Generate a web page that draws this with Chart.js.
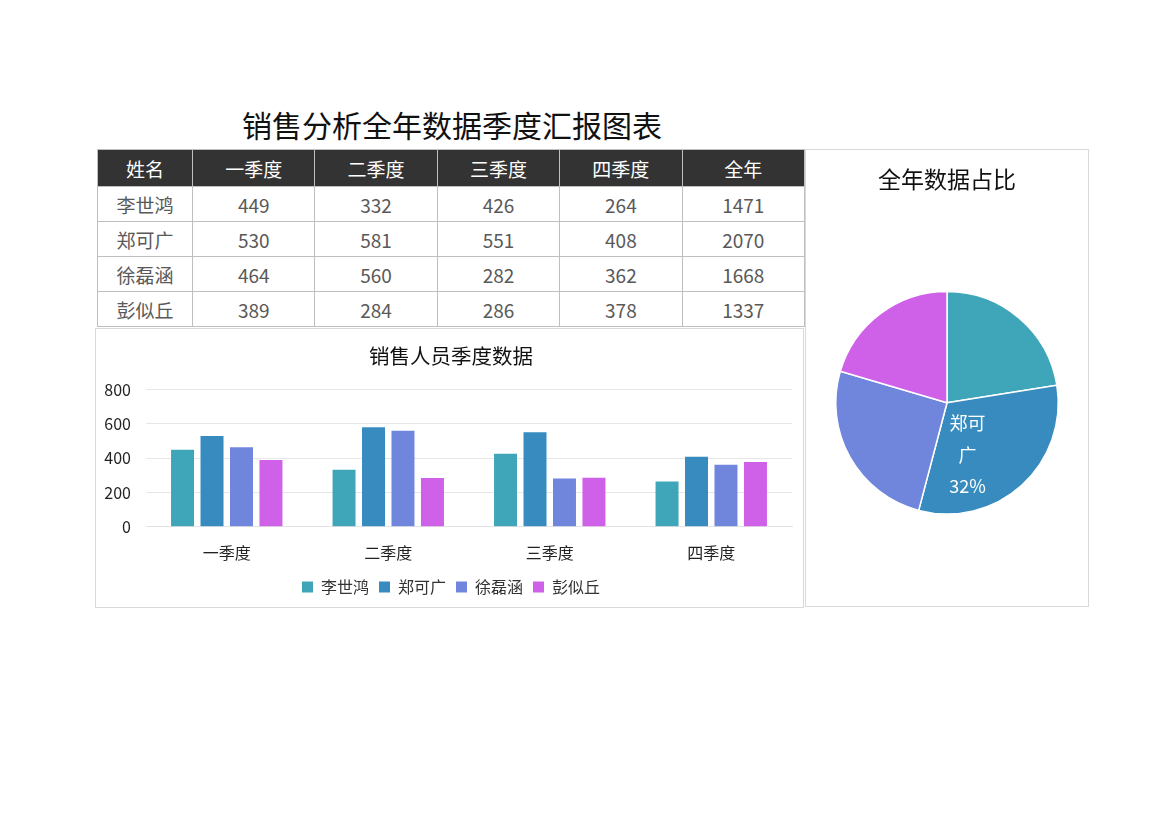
<!DOCTYPE html>
<html>
<head>
<meta charset="utf-8">
<script src="https://cdn.jsdelivr.net/npm/chart.js@4"></script>
<style>
  body { margin: 0; background: #fff; font-family: "Noto Sans CJK SC", "Noto Sans", sans-serif; }
  #page { position: relative; width: 1170px; height: 827px; }
  #mainTitle { position: absolute; left: 97px; width: 710px; top: 102px; text-align: center; font-size: 30px; color: #111; }
  #dataTable { position: absolute; left: 97px; top: 149px; width: 708px; border-collapse: collapse; table-layout: fixed; font-size: 19px; color: #595959; }
  #dataTable th, #dataTable td { border: 1px solid #bfbfbf; text-align: center; padding: 0; font-weight: normal; }
  #dataTable th { background: #333333; color: #fff; height: 36px; }
  #dataTable td { height: 34px; }
  .box { position: absolute; border: 1px solid #d9d9d9; background: #fff; }
  #barBox { left: 95px; top: 328px; width: 707px; height: 278px; }
  #pieBox { left: 805px; top: 149px; width: 282px; height: 456px; }
</style>
</head>
<body>
<div id="page">
  <div id="mainTitle">销售分析全年数据季度汇报图表</div>
  <table id="dataTable"><colgroup></colgroup><thead></thead><tbody></tbody></table>
  <div class="box" id="barBox"><canvas id="barChart"></canvas></div>
  <div class="box" id="pieBox"><canvas id="pieChart"></canvas></div>
</div>
<script>
// data
const headers = ['姓名', '一季度', '二季度', '三季度', '四季度', '全年'];
const quarters = ['一季度', '二季度', '三季度', '四季度'];
const names = ['李世鸿', '郑可广', '徐磊涵', '彭似丘'];
const liShihong = [449, 332, 426, 264];
const zhengKeguang = [530, 581, 551, 408];
const xuLeihan = [464, 560, 282, 362];
const pengSiqiu = [389, 284, 286, 378];
const yearTotals = [1471, 2070, 1668, 1337];
const colors = ['#3fa6b9', '#378bbf', '#7086dd', '#cf61e9'];

const series = [liShihong, zhengKeguang, xuLeihan, pengSiqiu];

// build table
document.querySelector('#dataTable colgroup').innerHTML =
  '<col style="width:95px">' + headers.slice(1).map(() => '<col>').join('');
const thead = document.querySelector('#dataTable thead');
thead.innerHTML = '<tr>' + headers.map(h => `<th>${h}</th>`).join('') + '</tr>';
const tbody = document.querySelector('#dataTable tbody');
tbody.innerHTML = names.map((n, i) =>
  '<tr><td>' + n + '</td>' +
  series[i].map(v => `<td>${v}</td>`).join('') +
  `<td>${yearTotals[i]}</td></tr>`
).join('');

const fontFamily = '"Noto Sans CJK SC", "Noto Sans", sans-serif';
Chart.defaults.font.family = fontFamily;
Chart.defaults.color = '#333';

// nudge title and legend a little to the right, like the original
const centerBlocks = {
  id: 'centerBlocks',
  afterLayout(chart) {
    [chart.titleBlock, chart.legend].forEach(b => {
      if (b) { b.left += 7; b.right += 7; }
    });
  }
};

new Chart(document.getElementById('barChart'), {
  type: 'bar',
  data: {
    labels: quarters,
    datasets: names.map((n, i) => ({
      label: n,
      data: series[i],
      backgroundColor: colors[i],
      borderWidth: 0,
      categoryPercentage: 0.73,
      barPercentage: 0.78
    }))
  },
  options: {
    responsive: true,
    maintainAspectRatio: false,
    animation: false,
    layout: { padding: { top: 4, left: 0, right: 11, bottom: 2 } },
    plugins: {
      title: {
        display: true,
        text: '销售人员季度数据',
        font: { size: 20.5, weight: 'normal' },
        color: '#111',
        padding: { top: 11, bottom: 21 }
      },
      legend: {
        position: 'bottom',
        labels: { boxWidth: 11, boxHeight: 11, font: { size: 16 }, color: '#333', padding: 10 }
      },
      tooltip: { enabled: false }
    },
    scales: {
      x: {
        grid: { display: false, drawTicks: true, tickLength: 11 },
        border: { color: '#e3e3e3' },
        ticks: { font: { size: 16 }, color: '#222', padding: 6 }
      },
      y: {
        min: 0,
        max: 800,
        ticks: { stepSize: 200, font: { size: 16 }, color: '#222', padding: 15 },
        grid: { color: '#e6e6e6', drawTicks: false },
        border: { display: false },
        afterFit(scale) { scale.width = 50; }
      }
    }
  },
  plugins: [centerBlocks]
});

// label only the largest slice, inside the pie
const pieLabel = {
  id: 'pieLabel',
  afterDatasetsDraw(chart) {
    const meta = chart.getDatasetMeta(0);
    const idx = 1;
    const arc = meta.data[idx];
    const total = yearTotals.reduce((a, b) => a + b, 0);
    const pct = Math.round(yearTotals[idx] / total * 100) + '%';
    const ang = arc.startAngle + 0.7 * (arc.endAngle - arc.startAngle);
    const r = arc.outerRadius * 0.5;
    const x = arc.x + Math.cos(ang) * r + 2;
    const y = arc.y + Math.sin(ang) * r;
    const ctx = chart.ctx;
    ctx.save();
    ctx.fillStyle = '#fff';
    ctx.font = '18px ' + fontFamily;
    ctx.textAlign = 'center';
    ctx.textBaseline = 'middle';
    ctx.fillText(names[idx].slice(0, 2), x, y - 32);
    ctx.fillText(names[idx].slice(2), x, y);
    ctx.fillText(pct, x, y + 31);
    ctx.restore();
  }
};

new Chart(document.getElementById('pieChart'), {
  type: 'pie',
  data: {
    labels: names,
    datasets: [{
      data: yearTotals,
      backgroundColor: colors,
      borderColor: '#fff',
      borderWidth: 1.5
    }]
  },
  options: {
    responsive: true,
    maintainAspectRatio: false,
    animation: false,
    layout: { padding: { top: 0, left: 29, right: 29, bottom: 0 } },
    plugins: {
      title: {
        display: true,
        text: '全年数据占比',
        font: { size: 23, weight: 'normal' },
        color: '#111',
        padding: { top: 15, bottom: 7 }
      },
      legend: { display: false },
      tooltip: { enabled: false }
    }
  },
  plugins: [pieLabel]
});
</script>
</body>
</html>
